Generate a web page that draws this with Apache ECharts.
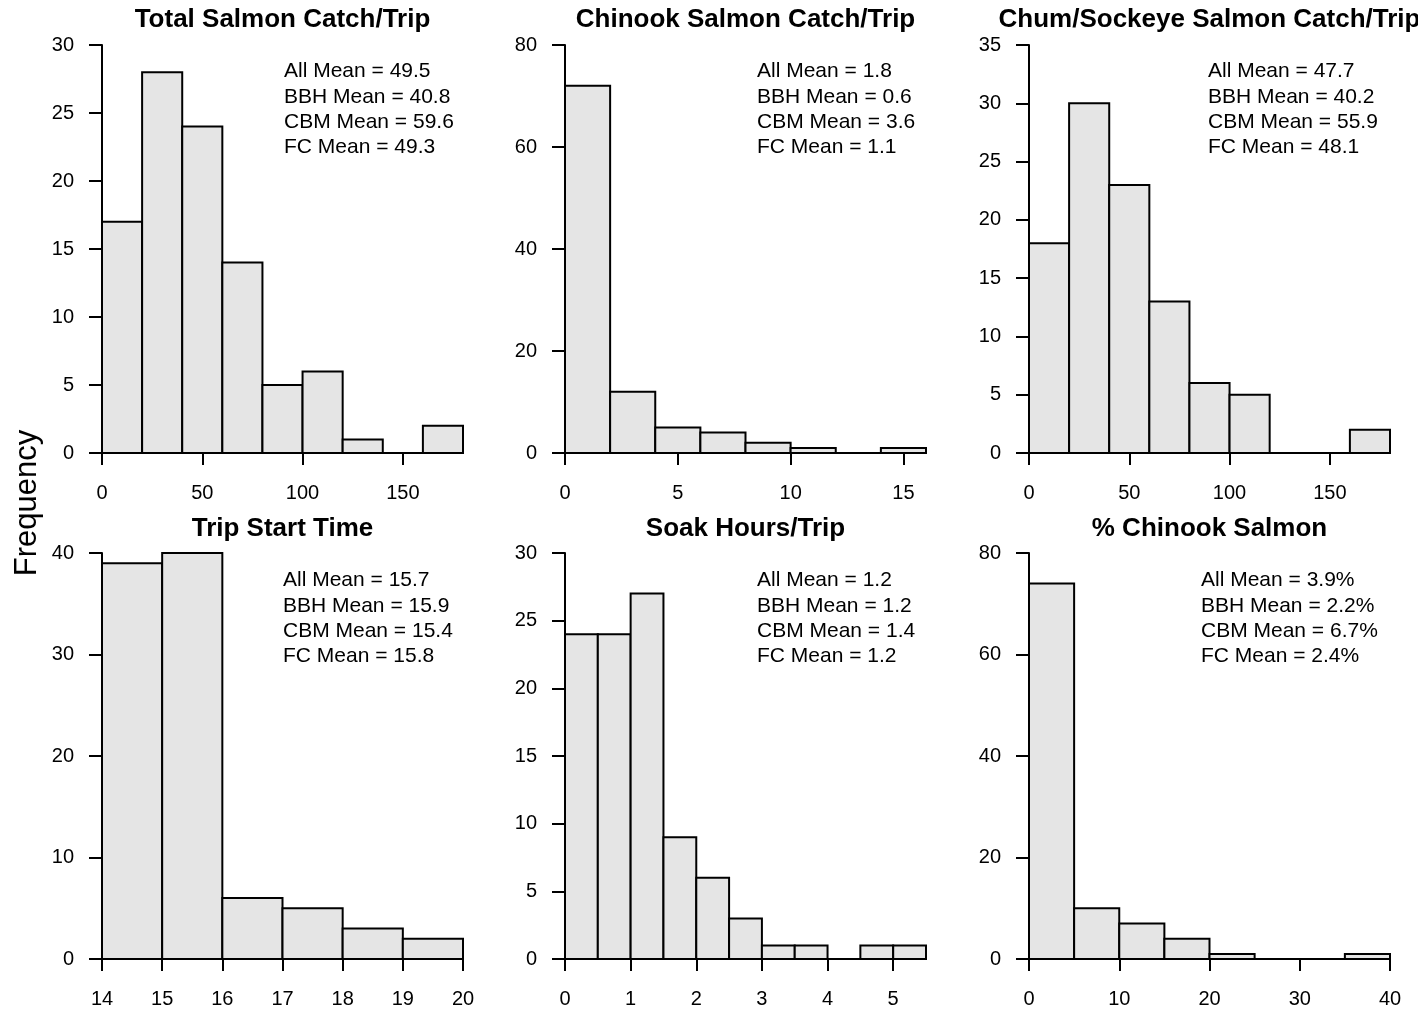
<!DOCTYPE html>
<html>
<head>
<meta charset="utf-8">
<script src="https://cdn.jsdelivr.net/npm/echarts@6/dist/echarts.min.js"></script>
<style>
  html, body { margin: 0; padding: 0; background: #fff; }
  #chart { width: 1418px; height: 1009px; }
</style>
</head>
<body>
<div id="chart"></div>
<script>
// ---------------- data ----------------
const panelTitles = ['Total Salmon Catch/Trip', 'Chinook Salmon Catch/Trip', 'Chum/Sockeye Salmon Catch/Trip',
                     'Trip Start Time', 'Soak Hours/Trip', '% Chinook Salmon'];
const yAxisName = 'Frequency';
const meanGroups = ['All', 'BBH', 'CBM', 'FC'];

const totalBreaks = [0, 20, 40, 60, 80, 100, 120, 140, 160, 180];
const totalCounts = [17, 28, 24, 14, 5, 6, 1, 0, 2];
const totalXTicks = [0, 50, 100, 150];
const totalYTicks = [0, 5, 10, 15, 20, 25, 30];
const totalMeans = ['49.5', '40.8', '59.6', '49.3'];

const chinookBreaks = [0, 2, 4, 6, 8, 10, 12, 14, 16];
const chinookCounts = [72, 12, 5, 4, 2, 1, 0, 1];
const chinookXTicks = [0, 5, 10, 15];
const chinookYTicks = [0, 20, 40, 60, 80];
const chinookMeans = ['1.8', '0.6', '3.6', '1.1'];

const chumBreaks = [0, 20, 40, 60, 80, 100, 120, 140, 160, 180];
const chumCounts = [18, 30, 23, 13, 6, 5, 0, 0, 2];
const chumXTicks = [0, 50, 100, 150];
const chumYTicks = [0, 5, 10, 15, 20, 25, 30, 35];
const chumMeans = ['47.7', '40.2', '55.9', '48.1'];

const startBreaks = [14, 15, 16, 17, 18, 19, 20];
const startCounts = [39, 40, 6, 5, 3, 2];
const startXTicks = [14, 15, 16, 17, 18, 19, 20];
const startYTicks = [0, 10, 20, 30, 40];
const startMeans = ['15.7', '15.9', '15.4', '15.8'];

const soakBreaks = [0, 0.5, 1, 1.5, 2, 2.5, 3, 3.5, 4, 4.5, 5, 5.5];
const soakCounts = [24, 24, 27, 9, 6, 3, 1, 1, 0, 1, 1];
const soakXTicks = [0, 1, 2, 3, 4, 5];
const soakYTicks = [0, 5, 10, 15, 20, 25, 30];
const soakMeans = ['1.2', '1.2', '1.4', '1.2'];

const pctBreaks = [0, 5, 10, 15, 20, 25, 30, 35, 40];
const pctCounts = [74, 10, 7, 4, 1, 0, 0, 1];
const pctXTicks = [0, 10, 20, 30, 40];
const pctYTicks = [0, 20, 40, 60, 80];
const pctMeans = ['3.9%', '2.2%', '6.7%', '2.4%'];

// ---------------- layout / style ----------------
const FONT = '"Liberation Sans", Arial, Helvetica, sans-serif';
const colLeft = [102, 565, 1029];
const rowTop = [45, 553];
const plotW = 361, plotH = 408;
const legendLeft = [[284, 757, 1208], [283, 757, 1201]];
const legendFirstY = [71, 580];
const titleY = [20, 529];

const panels = [
  { breaks: totalBreaks, counts: totalCounts, xt: totalXTicks, yt: totalYTicks, means: totalMeans },
  { breaks: chinookBreaks, counts: chinookCounts, xt: chinookXTicks, yt: chinookYTicks, means: chinookMeans },
  { breaks: chumBreaks, counts: chumCounts, xt: chumXTicks, yt: chumYTicks, means: chumMeans },
  { breaks: startBreaks, counts: startCounts, xt: startXTicks, yt: startYTicks, means: startMeans },
  { breaks: soakBreaks, counts: soakCounts, xt: soakXTicks, yt: soakYTicks, means: soakMeans },
  { breaks: pctBreaks, counts: pctCounts, xt: pctXTicks, yt: pctYTicks, means: pctMeans }
];

function renderBar(params, api) {
  const x0 = api.value(0), x1 = api.value(1), c = api.value(2);
  const p0 = api.coord([x0, 0]);
  const p1 = api.coord([x1, c]);
  return {
    type: 'rect',
    shape: { x: p0[0], y: p1[1], width: p1[0] - p0[0], height: p0[1] - p1[1] },
    style: { fill: '#e5e5e5', stroke: '#000', lineWidth: 2 }
  };
}

const grids = [], xAxes = [], yAxes = [], series = [], graphics = [];
panels.forEach((p, i) => {
  const r = Math.floor(i / 3), c = i % 3;
  grids.push({ left: colLeft[c], top: rowTop[r], width: plotW, height: plotH, containLabel: false });
  const yt = p.yt;
  xAxes.push({
    type: 'value', gridIndex: i,
    min: p.breaks[0], max: p.breaks[p.breaks.length - 1],
    axisLine: { show: true, onZero: false, lineStyle: { color: '#000', width: 2 } },
    axisTick: { show: true, inside: false, length: 12, lineStyle: { color: '#000', width: 2 }, customValues: p.xt },
    axisLabel: { customValues: p.xt, margin: 30, color: '#000', fontSize: 20, fontFamily: FONT },
    splitLine: { show: false }
  });
  yAxes.push({
    type: 'value', gridIndex: i,
    min: yt[0], max: yt[yt.length - 1], interval: yt[1] - yt[0],
    axisLine: { show: true, onZero: false, lineStyle: { color: '#000', width: 2 } },
    axisTick: { show: true, inside: false, length: 13, lineStyle: { color: '#000', width: 2 } },
    axisLabel: { margin: 28, color: '#000', fontSize: 20, fontFamily: FONT },
    splitLine: { show: false }
  });
  const data = p.counts.map((v, k) => [p.breaks[k], p.breaks[k + 1], v]);
  series.push({
    type: 'custom', xAxisIndex: i, yAxisIndex: i,
    renderItem: renderBar, data: data,
    encode: { x: [0, 1], y: 2 },
    animation: false, silent: true
  });
  // title
  graphics.push({
    type: 'text', x: colLeft[c] + plotW / 2, y: titleY[r],
    style: { text: panelTitles[i], fill: '#000', font: 'bold 26px ' + FONT, align: 'center', verticalAlign: 'middle' }
  });
  // means legend
  const lines = meanGroups.map((g, k) => g + ' Mean = ' + p.means[k]).join('\n');
  graphics.push({
    type: 'text', x: legendLeft[r][c], y: legendFirstY[r] - 12.2,
    style: { text: lines, fill: '#000', font: '21px ' + FONT, lineHeight: 25.4, align: 'left', verticalAlign: 'top' }
  });
});

graphics.push({
  type: 'text', x: 27, y: 503, rotation: Math.PI / 2,
  style: { text: yAxisName, fill: '#000', font: '31px ' + FONT, align: 'center', verticalAlign: 'middle' }
});

const chart = echarts.init(document.getElementById('chart'), null, { renderer: 'canvas' });
chart.setOption({
  animation: false,
  backgroundColor: '#fff',
  grid: grids,
  xAxis: xAxes,
  yAxis: yAxes,
  series: series,
  graphic: graphics
});
</script>
</body>
</html>
